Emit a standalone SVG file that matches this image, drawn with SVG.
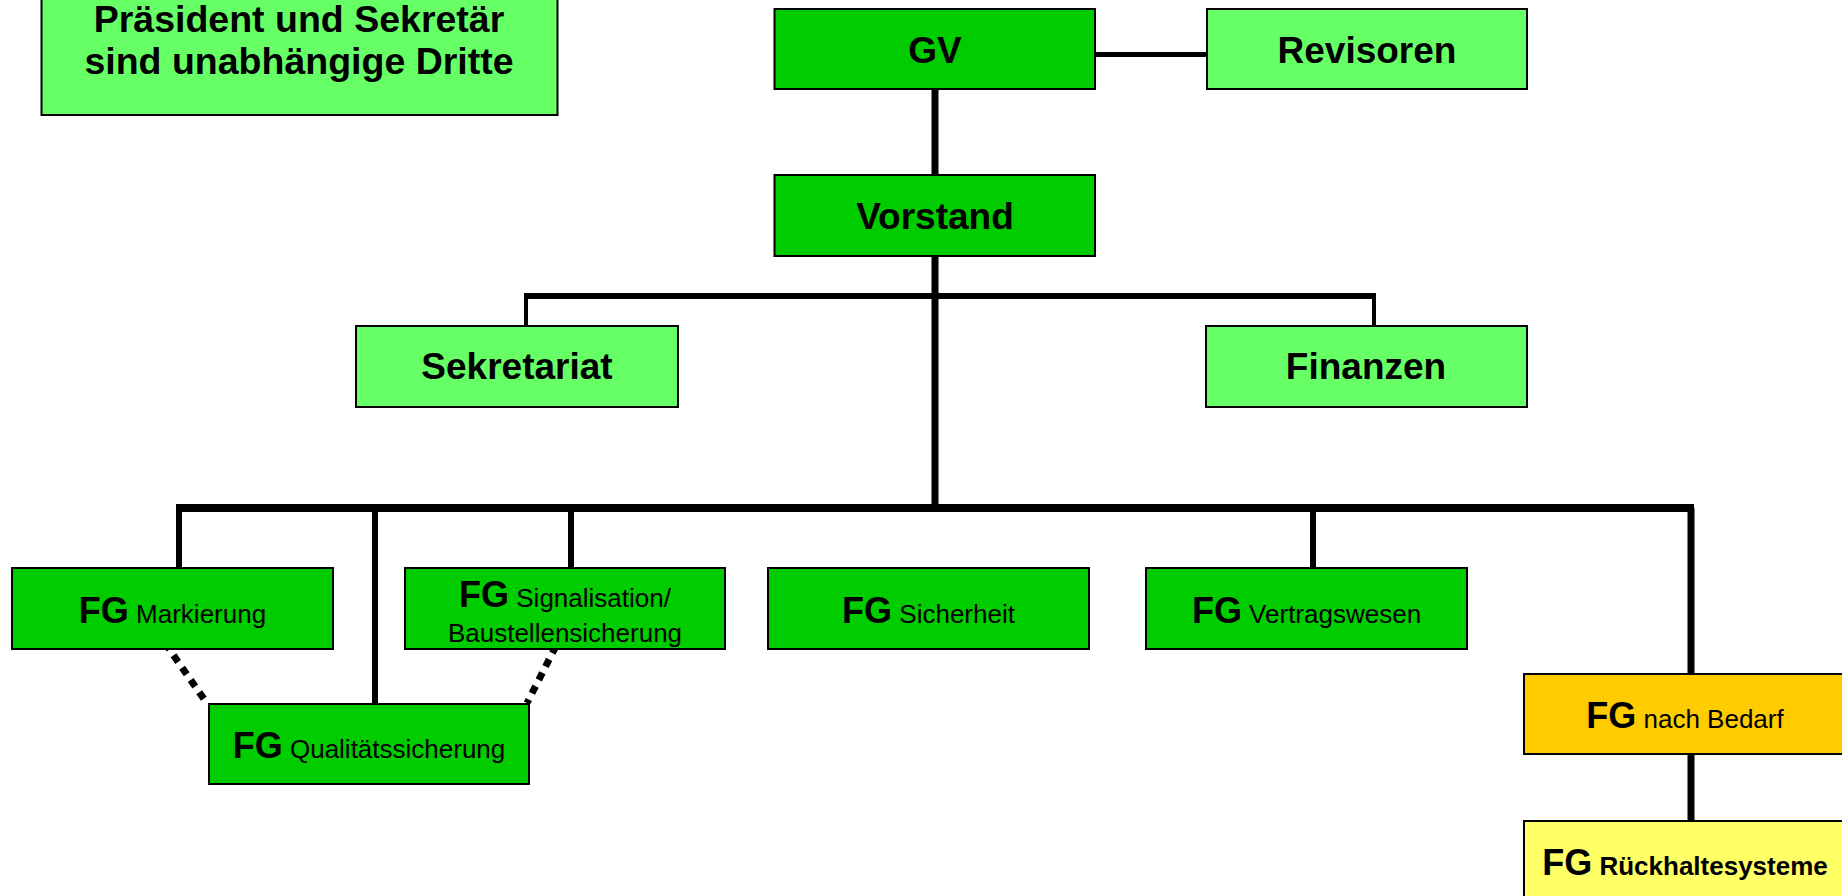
<svg xmlns="http://www.w3.org/2000/svg" width="1842" height="896" viewBox="0 0 1842 896">
<style>
.box{stroke:#000;stroke-width:2}
.dk{fill:#00CC00}
.lt{fill:#66FF66}
.or{fill:#FFCC00}
.ye{fill:#FFFF66}
text{font-family:"Liberation Sans",Arial,sans-serif;fill:#000;text-anchor:middle}
.h{font-weight:bold;font-size:37px}
.t{font-weight:bold;font-size:37.5px}
.fg{font-weight:bold;font-size:36px}
.d{font-weight:normal;font-size:26px}
.db{font-weight:bold;font-size:26px}
.ln{stroke:#000;fill:none}
</style>
<rect width="1842" height="896" fill="#fff"/>
<g id="connectors">
<line class="ln" x1="1095" y1="54.5" x2="1207" y2="54.5" stroke-width="5"/>
<line class="ln" x1="935" y1="85" x2="935" y2="175" stroke-width="7"/>
<line class="ln" x1="935" y1="252" x2="935" y2="512" stroke-width="7"/>
<line class="ln" x1="524" y1="296" x2="1376" y2="296" stroke-width="6"/>
<line class="ln" x1="526" y1="296" x2="526" y2="326" stroke-width="4"/>
<line class="ln" x1="1374" y1="296" x2="1374" y2="326" stroke-width="4"/>
<line class="ln" x1="176" y1="508" x2="1694" y2="508" stroke-width="8"/>
<line class="ln" x1="179" y1="508" x2="179" y2="568" stroke-width="6"/>
<line class="ln" x1="375" y1="508" x2="375" y2="704" stroke-width="6"/>
<line class="ln" x1="571" y1="508" x2="571" y2="568" stroke-width="6"/>
<line class="ln" x1="1313" y1="508" x2="1313" y2="568" stroke-width="6"/>
<line class="ln" x1="1691" y1="508" x2="1691" y2="674" stroke-width="7"/>
<line class="ln" x1="1691" y1="750" x2="1691" y2="825" stroke-width="7"/>
<line class="ln" x1="165" y1="643" x2="206" y2="702" stroke-width="7" stroke-dasharray="8 7"/>
<line class="ln" x1="556" y1="646" x2="527" y2="703" stroke-width="7" stroke-dasharray="8 7"/>
</g>
<g id="praesident">
<rect class="box lt" x="41.5" y="-5" width="516" height="120"/>
<text class="t" x="299" y="32">Präsident und Sekretär</text>
<text class="t" x="299" y="74">sind unabhängige Dritte</text>
</g>
<g id="gv">
<rect class="box dk" x="774.5" y="9" width="320.5" height="80"/>
<text class="h" x="935" y="63">GV</text>
</g>
<g id="revisoren">
<rect class="box lt" x="1207" y="9" width="320" height="80"/>
<text class="h" x="1367" y="63">Revisoren</text>
</g>
<g id="vorstand">
<rect class="box dk" x="774.5" y="175" width="320.5" height="81"/>
<text class="h" x="935" y="229">Vorstand</text>
</g>
<g id="sekretariat">
<rect class="box lt" x="356" y="326" width="322" height="81"/>
<text class="h" x="517" y="379">Sekretariat</text>
</g>
<g id="finanzen">
<rect class="box lt" x="1206" y="326" width="321" height="81"/>
<text class="h" x="1366" y="379">Finanzen</text>
</g>
<g id="fg-markierung">
<rect class="box dk" x="12" y="568" width="321" height="81"/>
<text x="172.5" y="623"><tspan class="fg">FG</tspan><tspan class="d"> Markierung</tspan></text>
</g>
<g id="fg-signalisation">
<rect class="box dk" x="405" y="568" width="320" height="81"/>
<text x="565" y="607"><tspan class="fg">FG</tspan><tspan class="d"> Signalisation/</tspan></text>
<text class="d" x="565" y="642">Baustellensicherung</text>
</g>
<g id="fg-qualitaet">
<rect class="box dk" x="209" y="704" width="320" height="80"/>
<text x="369" y="758"><tspan class="fg">FG</tspan><tspan class="d"> Qualitätssicherung</tspan></text>
</g>
<g id="fg-sicherheit">
<rect class="box dk" x="768" y="568" width="321" height="81"/>
<text x="928.5" y="623"><tspan class="fg">FG</tspan><tspan class="d"> Sicherheit</tspan></text>
</g>
<g id="fg-vertragswesen">
<rect class="box dk" x="1146" y="568" width="321" height="81"/>
<text x="1306.5" y="623"><tspan class="fg">FG</tspan><tspan class="d"> Vertragswesen</tspan></text>
</g>
<g id="fg-bedarf">
<rect class="box or" x="1524" y="674" width="325" height="80"/>
<text x="1685" y="728"><tspan class="fg">FG</tspan><tspan class="d"> nach Bedarf</tspan></text>
</g>
<g id="fg-rueckhalte">
<rect class="box ye" x="1524" y="821" width="325" height="85"/>
<text x="1685" y="875"><tspan class="fg">FG</tspan><tspan class="db"> Rückhaltesysteme</tspan></text>
</g>
</svg>
